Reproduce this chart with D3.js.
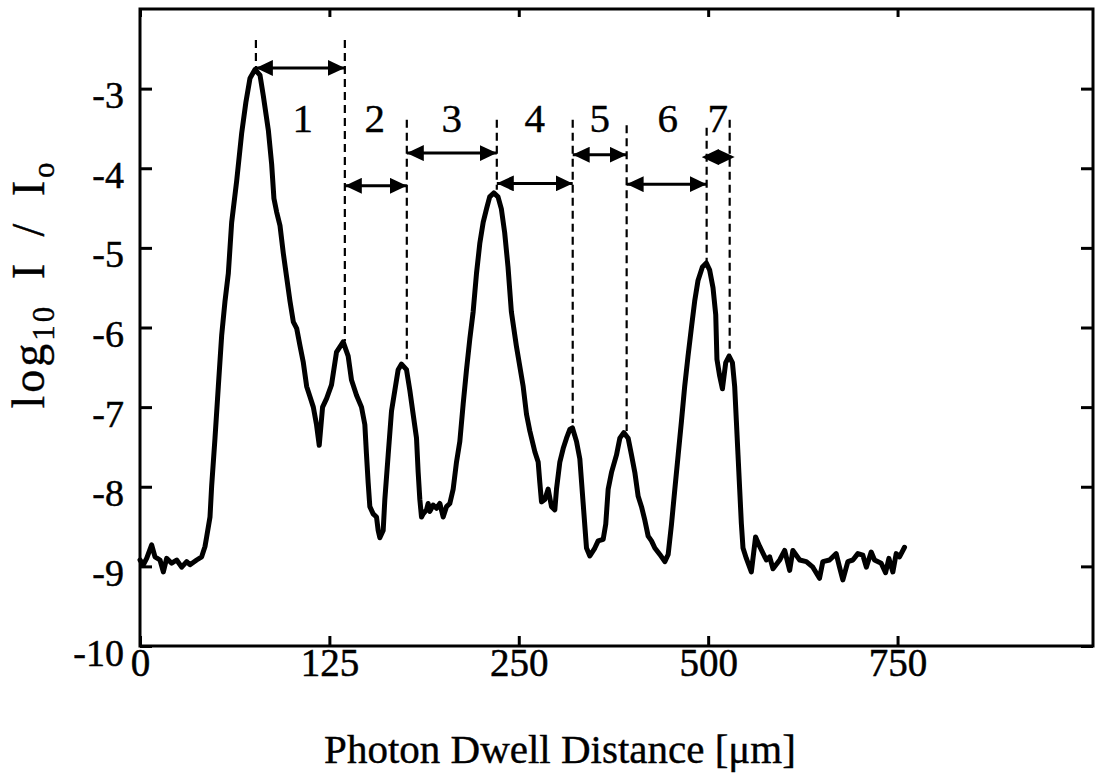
<!DOCTYPE html>
<html>
<head>
<meta charset="utf-8">
<script src="https://cdn.jsdelivr.net/npm/d3@7"></script>
<style>
  body { margin: 0; background: #fff; }
  svg text { font-family: "Liberation Serif", "Times New Roman", serif; fill: #000; }
</style>
</head>
<body>
<div class="container"></div>
<script>
// photon dwell distance (plotted in tick units) and log10 I/Io
const dist = [0, 2.2, 4.4, 7.7, 9.9, 13.2, 15.4, 17.6, 20.9, 24.2, 27.5, 30.8, 33.0, 37.4, 40.7, 42.9, 44.0, 46.2,
  47.3, 49.5, 51.7, 53.9, 56.1, 58.3, 60.5, 63.8, 67.1, 69.9, 72.6, 75.9, 79.2, 81.4, 84.7, 86.9, 88.4, 90.2,
  92.4, 94.6, 96.8, 99.0, 101.2, 103.4, 105.6, 107.8, 110.0, 112.2, 114.4, 116.5, 118.3, 120.5, 123.2, 126.4,
  129.7, 134.1, 137.4, 139.6, 142.9, 146.2, 148.4, 149.5, 150.6, 151.7, 153.9, 156.1, 157.2, 158.3, 160.5,
  161.6, 163.8, 166.0, 168.2, 170.4, 172.6, 175.9, 178.1, 180.3, 182.5, 183.6, 184.7, 185.8, 186.9, 189.1,
  190.2, 191.3, 193.5, 195.7, 197.9, 200.1, 202.3, 204.5, 206.7, 208.9, 211.1, 213.3, 215.5, 217.7, 219.9,
  222.1, 224.3, 226.5, 228.7, 230.8, 233.5, 236.3, 238.5, 240.7, 242.9, 245.1, 248.4,
  252.9, 255.1, 257.3, 260.6, 262.8, 263.9, 265.0, 267.2, 269.4, 271.6, 273.8, 274.9, 277.1, 279.3, 281.5,
  283.7, 285.4, 288.1, 290.3, 292.5, 294.7, 296.9, 300.2, 302.4, 305.7, 307.4, 309.0, 311.2, 314.5, 316.7,
  319.3, 322.2, 324.4, 326.6, 328.8, 331.0, 333.2, 335.4, 337.6, 339.8, 343.1, 346.4, 348.6, 350.8, 353.0,
  355.2, 357.4, 359.5, 361.7, 363.9, 366.1, 368.3, 371.2, 373.8, 376.0, 378.2, 380.0, 380.8, 382.6, 384.4,
  386.6, 388.8, 391.0, 392.5, 393.6, 394.7, 395.8, 396.9, 398.0, 400.2, 403.5,
  406.3, 409.0, 413.4, 415.6, 417.8, 422.2, 425.5, 428.8, 430.9, 435.4, 439.8, 444.1, 448.5, 450.7, 455.1,
  459.5, 461.7, 463.9, 467.2, 470.5, 473.8, 477.1, 479.4, 482.6, 484.8, 489.2, 492.1, 494.3, 496.9, 499.1,
  501.3, 504.6];
const logI = [-8.92, -8.98, -8.90, -8.73, -8.88, -8.92, -9.07, -8.90, -8.96, -8.92, -9.01, -8.94, -8.98, -8.92, -8.88, -8.75, -8.63, -8.38,
  -7.99, -7.39, -6.74, -6.10, -5.67, -5.32, -4.68, -4.16, -3.56, -3.17, -2.87, -2.76, -2.83, -3.09, -3.52, -3.95, -4.38, -4.55,
  -4.72, -5.07, -5.37, -5.67, -5.93, -6.01, -6.23, -6.44, -6.74, -6.87, -7.00, -7.22, -7.48, -7.00, -6.89, -6.72,
  -6.31, -6.18, -6.36, -6.66, -6.85, -7.00, -7.22, -7.60, -7.95, -8.25, -8.34, -8.38, -8.55, -8.64, -8.55,
  -8.16, -7.60, -7.05, -6.79, -6.53, -6.46, -6.53, -6.79, -7.09, -7.39, -7.82, -8.16, -8.38, -8.34, -8.29,
  -8.21, -8.31, -8.23, -8.27, -8.21, -8.38, -8.25, -8.21, -8.03, -7.69, -7.43, -6.96, -6.53, -6.14, -5.80,
  -5.32, -4.94, -4.68, -4.51, -4.36, -4.31, -4.36, -4.51, -4.81, -5.24, -5.80, -6.23,
  -6.74, -7.09, -7.30, -7.56, -7.69, -7.95, -8.19, -8.16, -8.03, -8.25, -8.29, -8.03, -7.69, -7.52, -7.39,
  -7.28, -7.26, -7.43, -7.65, -8.21, -8.77, -8.87, -8.77, -8.68, -8.66, -8.47, -8.03, -7.82, -7.60, -7.39,
  -7.32, -7.39, -7.60, -7.82, -8.12, -8.25, -8.42, -8.62, -8.68, -8.77, -8.85, -8.94, -8.85, -8.47, -8.03,
  -7.60, -7.17, -6.74, -6.36, -6.01, -5.67, -5.41, -5.24, -5.19, -5.28, -5.50, -5.84, -6.40, -6.61, -6.77,
  -6.44, -6.36, -6.44, -6.74, -7.17, -7.60, -8.03, -8.46, -8.77, -8.90, -9.07,
  -8.63, -8.75, -8.92, -8.88, -9.03, -8.92, -8.80, -9.05, -8.80, -8.92, -8.94, -9.01, -9.15, -8.94, -8.92,
  -8.84, -9.01, -9.17, -8.94, -8.92, -8.84, -8.86, -9.01, -8.82, -8.92, -8.96, -9.08, -8.90, -9.07, -8.84,
  -8.88, -8.76];

// axis ticks (the printed labels are not evenly spaced values, kept as printed)
const xTicks = [0, 125, 250, 375, 500];
const xTickLabels = ['0', '125', '250', '500', '750'];
const yTicks = [-10, -9, -8, -7, -6, -5, -4, -3];

// peak separations: dashed markers, arrows and region numbers
const bounds = [76.5, 135.2, 176.1, 235.5, 285.6, 321.2, 374.0, 389.2];
const dashTop = [-2.39, -2.39, -3.39, -3.39, -3.39, -3.46, -3.49, -3.39];
const dashBottom = [-2.74, -6.17, -6.40, -4.27, -7.20, -7.30, -5.18, -6.35];
const arrowY = [-2.74, -4.22, -3.81, -4.19, -3.83, -4.20, -3.86];
const regionNames = ['1', '2', '3', '4', '5', '6', '7'];
const regionX = [107.5, 155, 205.8, 260.6, 303.4, 348.3, 381.3];
const regionY = -3.55;

const W = 1097, H = 781;
const mLeft = 140, mRight = 1093, mTop = 9, mBottom = 646;

const svg = d3.select('.container')
  .append('svg')
  .attr('width', W)
  .attr('height', H);

svg.append('rect').attr('width', W).attr('height', H).attr('fill', '#fff');

const x = d3.scaleLinear().domain([0, 629]).range([mLeft, mRight]);
const y = d3.scaleLinear().domain([-10, -2]).range([mBottom, mTop]);

// axes, ticks pointing inward
const gx = svg.append('g')
  .attr('transform', `translate(0,${mBottom})`)
  .call(d3.axisBottom(x).tickValues(xTicks).tickSize(-10).tickPadding(2)
    .tickFormat((d, i) => xTickLabels[i]));
gx.selectAll('text').attr('font-size', 39).attr('dy', '0.71em');

svg.append('g')
  .attr('transform', `translate(0,${mTop})`)
  .call(d3.axisTop(x).tickValues(xTicks).tickSize(-8).tickFormat(''));

const gy = svg.append('g')
  .attr('transform', `translate(${mLeft},0)`)
  .call(d3.axisLeft(y).tickValues(yTicks).tickSize(-12).tickPadding(16)
    .tickFormat(d => String(d)));
gy.selectAll('text').attr('font-size', 38).attr('dy', '0.5em');

svg.append('g')
  .attr('transform', `translate(${mRight},0)`)
  .call(d3.axisRight(y).tickValues(yTicks).tickSize(-12).tickFormat(''));

svg.selectAll('.domain').remove();
svg.selectAll('.tick line').attr('stroke', '#000').attr('stroke-width', 3);
svg.selectAll('.tick text').attr('stroke', '#000').attr('stroke-width', 0.5);

svg.append('rect')
  .attr('x', mLeft).attr('y', mTop)
  .attr('width', mRight - mLeft).attr('height', mBottom - mTop)
  .attr('fill', 'none')
  .attr('stroke', '#000')
  .attr('stroke-width', 3);

// the profile
const line = d3.line()
  .x(d => x(d[0]))
  .y(d => y(d[1]));

svg.append('path')
  .datum(d3.zip(dist, logI))
  .attr('d', line)
  .attr('fill', 'none')
  .attr('stroke', '#000')
  .attr('stroke-width', 5)
  .attr('stroke-linejoin', 'round')
  .attr('stroke-linecap', 'round');

// dashed markers
svg.append('g').selectAll('line')
  .data(bounds)
  .join('line')
  .attr('x1', d => x(d)).attr('x2', d => x(d))
  .attr('y1', (d, i) => y(dashTop[i]))
  .attr('y2', (d, i) => y(dashBottom[i]))
  .attr('stroke', '#000')
  .attr('stroke-width', 2.2)
  .attr('stroke-dasharray', '8,5');

// arrow heads; the narrow gap gets heads that overshoot and meet as a diamond
const defs = svg.append('defs');
defs.append('marker')
  .attr('id', 'head')
  .attr('markerUnits', 'userSpaceOnUse')
  .attr('viewBox', '0 -8 17 16')
  .attr('refX', 17).attr('refY', 0)
  .attr('markerWidth', 17).attr('markerHeight', 16)
  .attr('orient', 'auto-start-reverse')
  .append('path')
  .attr('d', 'M0,-8L17,0L0,8Z')
  .attr('fill', '#000');

defs.append('marker')
  .attr('id', 'headShort')
  .attr('markerUnits', 'userSpaceOnUse')
  .attr('viewBox', '0 -8 17 16')
  .attr('refX', 12).attr('refY', 0)
  .attr('markerWidth', 17).attr('markerHeight', 16)
  .attr('orient', 'auto-start-reverse')
  .append('path')
  .attr('d', 'M0,-8L17,0L0,8Z')
  .attr('fill', '#000');

const headFor = i => (x(bounds[i + 1]) - x(bounds[i]) < 40 ? 'url(#headShort)' : 'url(#head)');

svg.append('g').selectAll('line')
  .data(arrowY)
  .join('line')
  .attr('x1', (d, i) => x(bounds[i]))
  .attr('x2', (d, i) => x(bounds[i + 1]))
  .attr('y1', d => y(d)).attr('y2', d => y(d))
  .attr('stroke', '#000')
  .attr('stroke-width', 3)
  .attr('marker-start', (d, i) => headFor(i))
  .attr('marker-end', (d, i) => headFor(i));

svg.append('g').selectAll('text')
  .data(regionNames)
  .join('text')
  .attr('x', (d, i) => x(regionX[i]))
  .attr('y', y(regionY))
  .attr('text-anchor', 'middle')
  .attr('font-size', 41)
  .attr('stroke', '#000').attr('stroke-width', 0.4)
  .text(d => d);

// axis titles
svg.append('text')
  .attr('x', 560).attr('y', 763)
  .attr('text-anchor', 'middle')
  .attr('font-size', 41)
  .attr('stroke', '#000').attr('stroke-width', 0.4)
  .text('Photon Dwell Distance [μm]');

const yt = svg.append('text')
  .attr('transform', 'translate(44,284) rotate(-90)')
  .attr('text-anchor', 'middle')
  .attr('font-size', 46)
  .attr('letter-spacing', 3)
  .attr('word-spacing', 10)
  .attr('stroke', '#000').attr('stroke-width', 0.4);
yt.append('tspan').text('log');
yt.append('tspan').attr('font-size', 31).attr('dy', 10).text('10');
yt.append('tspan').attr('dy', -10).text(' I / I');
yt.append('tspan').attr('font-size', 31).attr('dy', 10).text('o');
</script>
</body>
</html>
